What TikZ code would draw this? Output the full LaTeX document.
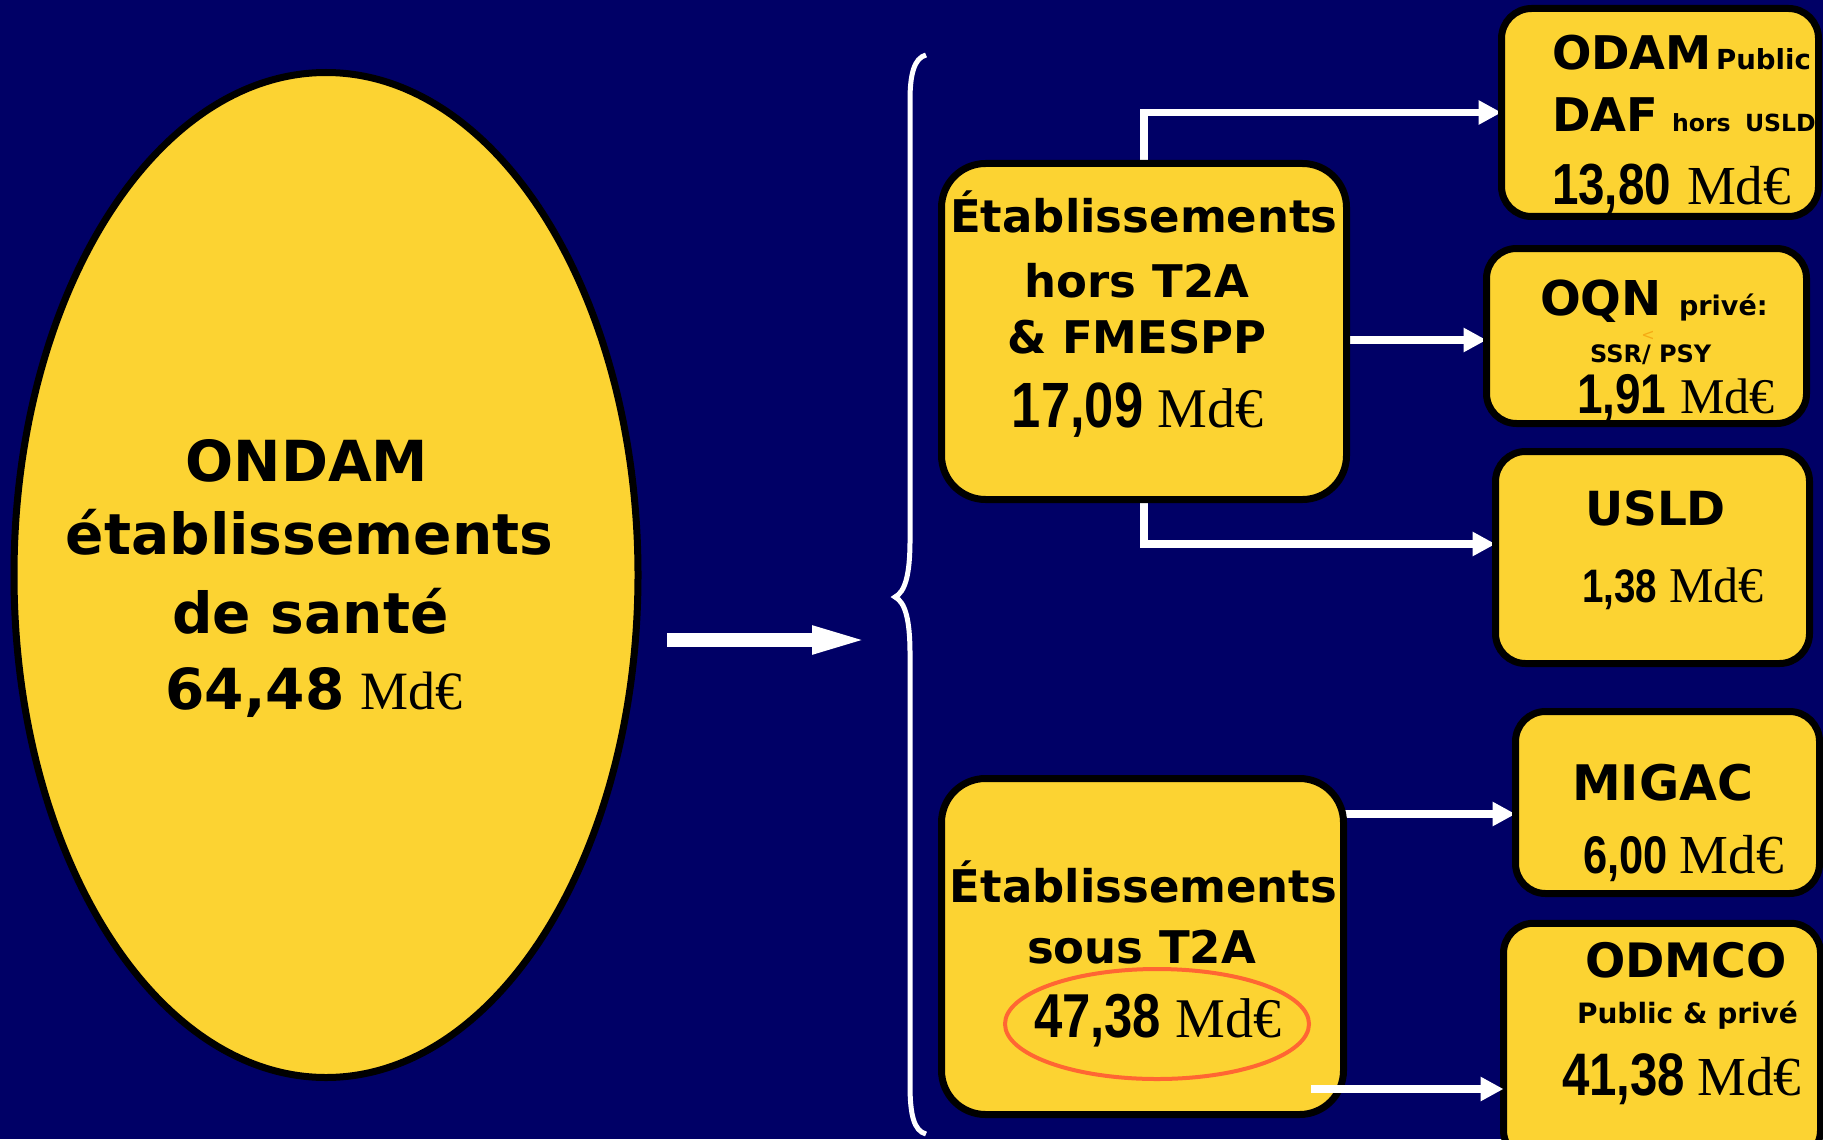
\documentclass[tikz,border=0pt]{standalone}
\usepackage{fontspec}
\setmainfont{DejaVu Sans}
\newfontfamily\nar{Liberation Sans}[FakeStretch=0.82]
\newfontfamily\ser{Liberation Serif}
\usetikzlibrary{arrows.meta,shapes.geometric,calc}
\definecolor{bgnavy}{RGB}{0,0,102}
\definecolor{ylw}{RGB}{252,211,50}
\definecolor{hlred}{RGB}{255,102,51}
\definecolor{strayc}{RGB}{245,170,20}
\newcommand{\myfs}[1]{\fontsize{#1}{#1}\selectfont}
\newcommand{\numt}[2]{{\nar\bfseries\myfs{#1}#2}}
\newcommand{\mdw}[1]{{\ser\myfs{#1}Md€}}
\pgfdeclarelayer{bg}
\pgfsetlayers{bg,main}
\begin{document}
\begin{tikzpicture}[x=0.5pt,y=-0.5pt,
  box/.style={draw=black, line width=3.5pt, fill=ylw, inner sep=0pt, outer sep=0pt},
  bigbox/.style={box, rounded corners=22pt},
  smallbox/.style={box, rounded corners=15pt},
  txt/.style={anchor=base, inner sep=0pt, outer sep=0pt, text=black},
  txtl/.style={anchor=base west, inner sep=0pt, outer sep=0pt, text=black},
  conn/.style={draw=white, line width=3.75pt, -{Triangle[length=11.5pt,width=11.5pt]}},
  mainarrow/.style={draw=white, line width=7pt, -{Triangle[length=31pt,width=12pt]}},
  bracestyle/.style={draw=white, line width=2.5pt},
]
\useasboundingbox (0,0) rectangle (1823,1139);
\clip (0,0) rectangle (1823,1139);

% main ellipse
\node[ellipse, draw=black, line width=3.5pt, fill=ylw, inner sep=0pt,
      minimum width=312pt, minimum height=502.5pt] (ond) at (326,575) {};

% boxes
\node[bigbox, minimum width=202.5pt, minimum height=168pt] (hT) at (1144,331.5) {};
\node[bigbox, minimum width=201pt, minimum height=168pt] (sT) at (1142.5,946.5) {};
\node[smallbox, minimum width=158.5pt, minimum height=104pt] (odam) at (1660,112.5) {};
\node[smallbox, minimum width=160pt, minimum height=87.5pt] (oqn) at (1646.5,336) {};
\node[smallbox, minimum width=157pt, minimum height=106pt] (usld) at (1652.5,557.5) {};
\node[smallbox, minimum width=152pt, minimum height=91pt] (migac) at (1667.5,802.5) {};
\node[smallbox, minimum width=158.5pt, minimum height=118.5pt] (odmco) at (1662,1041.75) {};

% connectors behind the boxes
\begin{pgfonlayer}{bg}
  \fill[bgnavy] (0,0) rectangle (1823,1139);
  \coordinate (ma1) at (667,640);
  \coordinate (ma2) at (874,640);
  \draw[mainarrow] (ma1) -- (ma2);
  \draw[bracestyle] (926,55) .. controls (914,58) and (910,75) .. (910,100)
     -- (910,540) .. controls (910,575) and (905,592) .. (895,597)
     .. controls (905,602) and (910,619) .. (910,654)
     -- (910,1085) .. controls (910,1115) and (914,1131) .. (926,1134);
  \draw[conn] (hT.north) |- (odam.west);
  \coordinate (c2) at ([yshift=-4.25pt]hT.east);
  \draw[conn] (c2) -- (c2 -| oqn.west);
  \draw[conn] (hT.south) |- ([yshift=6.75pt]usld.west);
  \coordinate (c4) at ([yshift=-5.75pt]migac.west);
  \draw[conn] (c4 -| sT.east) -- (c4);
\end{pgfonlayer}

% connector drawn over the box
\coordinate (c5s) at (1311,1089);
\draw[conn] (c5s) -- (c5s -| odmco.west);

% highlight ellipse
\node[ellipse, draw=hlred, line width=2pt, inner sep=0pt,
      minimum width=152pt, minimum height=55pt] (hl) at (1157,1024) {};

% ellipse text
\node[txt] (e1) at (307,481) {\myfs{28.3pt}\bfseries ONDAM};
\node[txt] (e2) at (309.5,554) {\myfs{28.3pt}\bfseries établissements};
\node[txt] (e3) at (310.5,633) {\myfs{28.3pt}\bfseries de santé};
\node[txt] (e4) at (314,709) {{\myfs{28.3pt}\bfseries 64,48}\hspace{8pt}\mdw{27pt}};

% hors T2A
\node[txt] (h1) at (1144,233) {\myfs{22.5pt}\bfseries Établissements};
\node[txt] (h2) at (1137,297) {\myfs{22.5pt}\bfseries hors T2A};
\node[txt] (h3) at (1137,353) {\myfs{22.5pt}\bfseries \& FMESPP};
\node[txt] (h4) at (1137.5,427) {\numt{32pt}{17,09}\hspace{7pt}\mdw{28pt}};

% sous T2A
\node[txt] (s1) at (1143.5,902) {\myfs{22.5pt}\bfseries Établissements};
\node[txt] (s2) at (1141.5,963) {\myfs{22.5pt}\bfseries sous T2A};
\node[txt] (s3) at (1157.5,1037) {\numt{31pt}{47,38}\hspace{7pt}\mdw{28pt}};

% ODAM
\node[txtl] (o1) at (1552,70) {\myfs{23.2pt}\bfseries ODAM\hspace{2pt}{\myfs{13.8pt}Public}};
\node[txtl] (o2) at (1552,132) {\myfs{23.2pt}\bfseries DAF};
\node[txtl] (o3) at (1672,132) {\myfs{11.8pt}\bfseries hors};
\node[txtl] (o4) at (1745,132) {\myfs{11.8pt}\bfseries USLD};
\node[txtl] (o5) at (1552,205) {\numt{29pt}{13,80}\hspace{8pt}\mdw{27.5pt}};

% OQN
\node[txtl] (q1) at (1540,315) {\myfs{24pt}\bfseries OQN};
\node[txtl] (q2) at (1679,315) {\myfs{13.5pt}\bfseries privé:};
\node[txt, text=strayc] (qs) at (1648,340) {\myfs{8pt}<};
\node[txtl] (q3) at (1590,362) {\myfs{12pt}\bfseries SSR/ PSY};
\node[txtl] (q4) at (1577,413) {\numt{28pt}{1,91}\hspace{7pt}\mdw{25pt}};

% USLD
\node[txtl] (u1) at (1585,525) {\myfs{23.5pt}\bfseries USLD};
\node[txtl] (u2) at (1582,602) {\numt{23.5pt}{1,38}\hspace{6pt}\mdw{25pt}};

% MIGAC
\node[txtl] (m1) at (1572,800) {\myfs{24.5pt}\bfseries MIGAC};
\node[txtl] (m2) at (1583,873) {\numt{26.5pt}{6,00}\hspace{6pt}\mdw{27.5pt}};

% ODMCO
\node[txtl] (d1) at (1585,977) {\myfs{23.7pt}\bfseries ODMCO};
\node[txtl] (d2) at (1577,1023) {\myfs{14pt}\bfseries Public \& privé};
\node[txtl] (d3) at (1562,1095) {\numt{30pt}{41,38}\hspace{6pt}\mdw{27.5pt}};
\end{tikzpicture}
\end{document}
